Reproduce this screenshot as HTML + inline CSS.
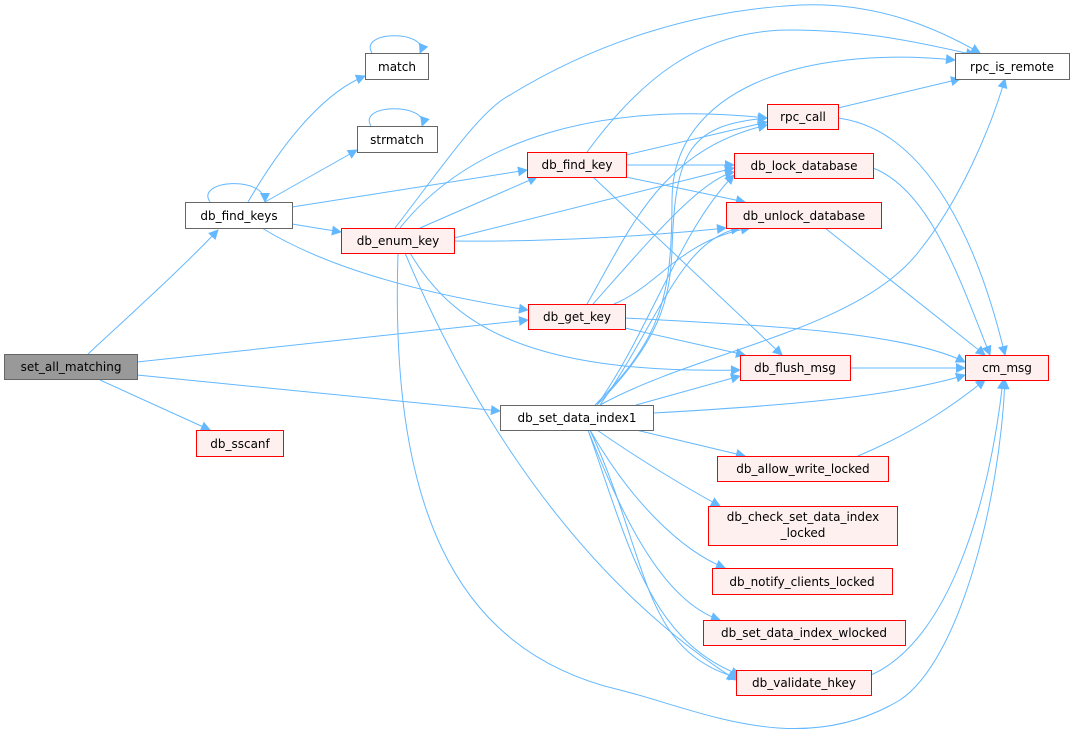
<!DOCTYPE html>
<html><head><meta charset="utf-8"><style>
html,body{margin:0;padding:0;background:#fff;}
svg{display:block;}
text{font-family:"DejaVu Sans","Liberation Sans",sans-serif;font-size:12px;fill:#000;}
</style></head><body>
<svg width="1073" height="741" viewBox="0 0 1073 741" xmlns="http://www.w3.org/2000/svg">
<defs>
<marker id="a" viewBox="0 0 10 10" refX="9" refY="5" markerWidth="12" markerHeight="10" markerUnits="userSpaceOnUse" orient="auto">
<path d="M0,0 L10,5 L0,10 z" fill="#63b8ff"/>
</marker>
</defs>
<g fill="none" stroke="#63b8ff" stroke-width="1" marker-end="url(#a)">
<path d="M88,354 C130,315 180,270 218,230"/>
<path d="M137,362 L528,320"/>
<path d="M137,375 L500,411"/>
<path d="M100,380 L210,430"/>
<path d="M210,202 C195,180 265,175 265,202"/>
<path d="M248,202 C290,130 330,90 365,76"/>
<path d="M265,202 L357,150"/>
<path d="M292,207 L527,170"/>
<path d="M292,224 L341,232"/>
<path d="M262,228 C330,270 430,295 528,310"/>
<path d="M372,53 C358,30 430,30 420,53"/>
<path d="M371,126 C357,103 430,103 422,126"/>
<path d="M395,228 C440,170 480,110 510,95 C600,40 700,10 800,5 C880,2 940,30 980,53"/>
<path d="M400,228 C470,140 600,100 767,118"/>
<path d="M420,228 L537,177"/>
<path d="M454,238 L734,168"/>
<path d="M454,241 C550,242 650,236 726,228"/>
<path d="M410,253 C450,320 520,375 740,370"/>
<path d="M405,253 C450,360 550,560 736,680"/>
<path d="M398,253 C390,500 450,650 620,690 C700,710 800,760 900,700 C960,660 1000,500 1005,380"/>
<path d="M587,152 C640,80 700,30 790,30 C870,30 930,45 975,55"/>
<path d="M626,155 L767,122"/>
<path d="M626,165 L734,165"/>
<path d="M626,177 L745,202"/>
<path d="M593,177 L782,355"/>
<path d="M587,304 C630,230 660,150 767,125"/>
<path d="M593,304 C650,240 700,180 734,172"/>
<path d="M614,304 C660,285 680,240 750,228"/>
<path d="M625,318 C750,325 900,330 965,362"/>
<path d="M625,328 L745,355"/>
<path d="M600,405 C700,350 860,330 920,250 C960,200 990,130 1005,79"/>
<path d="M597,405 C660,340 670,300 672,250 C675,150 690,125 767,118"/>
<path d="M595,405 C660,340 672,300 672,200 C672,90 800,45 955,60"/>
<path d="M597,405 C650,330 680,230 734,175"/>
<path d="M600,405 C660,320 680,240 740,228"/>
<path d="M636,405 L740,376"/>
<path d="M653,413 C800,405 900,395 965,375"/>
<path d="M636,430 L745,456"/>
<path d="M597,430 C640,460 690,490 720,506"/>
<path d="M590,430 C630,500 680,550 725,568"/>
<path d="M588,430 C620,510 660,600 720,620"/>
<path d="M588,430 C630,550 650,640 740,675"/>
<path d="M590,430 C650,560 640,650 738,678"/>
<path d="M838,108 L960,79"/>
<path d="M838,118 C930,130 980,250 1005,355"/>
<path d="M873,168 C930,190 960,280 990,355"/>
<path d="M825,228 L985,355"/>
<path d="M850,368 L965,368"/>
<path d="M858,456 C920,430 960,400 985,380"/>
<path d="M871,675 C950,640 990,500 1003,380"/>
</g>
<g stroke-width="1">
<rect x="4.5" y="354.5" width="133" height="25" fill="#999" stroke="#666"/>
<rect x="185.5" y="202.5" width="107" height="26" fill="#fff" stroke="#666"/>
<rect x="365.5" y="53.5" width="63" height="26" fill="#fff" stroke="#666"/>
<rect x="357.5" y="126.5" width="80" height="26" fill="#fff" stroke="#666"/>
<rect x="955.5" y="53.5" width="114" height="26" fill="#fff" stroke="#666"/>
<rect x="500.5" y="405.5" width="153" height="25" fill="#fff" stroke="#666"/>
<g fill="#fff0f0" stroke="#ff0000">
<rect x="341.5" y="228.5" width="113" height="25"/>
<rect x="196.5" y="430.5" width="87" height="26"/>
<rect x="527.5" y="152.5" width="99" height="25"/>
<rect x="528.5" y="304.5" width="97" height="25"/>
<rect x="767.5" y="104.5" width="71" height="25"/>
<rect x="734.5" y="153.5" width="139" height="25"/>
<rect x="726.5" y="202.5" width="155" height="26"/>
<rect x="740.5" y="355.5" width="110" height="25"/>
<rect x="965.5" y="355.5" width="83" height="25"/>
<rect x="717.5" y="456.5" width="171" height="25"/>
<rect x="708.5" y="506.5" width="189" height="39"/>
<rect x="712.5" y="568.5" width="180" height="26"/>
<rect x="703.5" y="620.5" width="202" height="25"/>
<rect x="736.5" y="670.5" width="135" height="25"/>
</g>
</g>
<g text-anchor="middle">
<text x="71" y="371">set_all_matching</text>
<text x="239" y="220">db_find_keys</text>
<text x="397" y="71">match</text>
<text x="397" y="144">strmatch</text>
<text x="1012" y="71">rpc_is_remote</text>
<text x="577" y="422">db_set_data_index1</text>
<text x="398" y="245">db_enum_key</text>
<text x="240" y="448">db_sscanf</text>
<text x="577" y="169">db_find_key</text>
<text x="577" y="321">db_get_key</text>
<text x="803" y="121">rpc_call</text>
<text x="804" y="170">db_lock_database</text>
<text x="804" y="220">db_unlock_database</text>
<text x="795" y="372">db_flush_msg</text>
<text x="1007" y="372">cm_msg</text>
<text x="803" y="473">db_allow_write_locked</text>
<text x="803" y="521">db_check_set_data_index</text>
<text x="803" y="537">_locked</text>
<text x="802" y="586">db_notify_clients_locked</text>
<text x="804" y="637">db_set_data_index_wlocked</text>
<text x="804" y="687">db_validate_hkey</text>
</g>
</svg>
</body></html>
